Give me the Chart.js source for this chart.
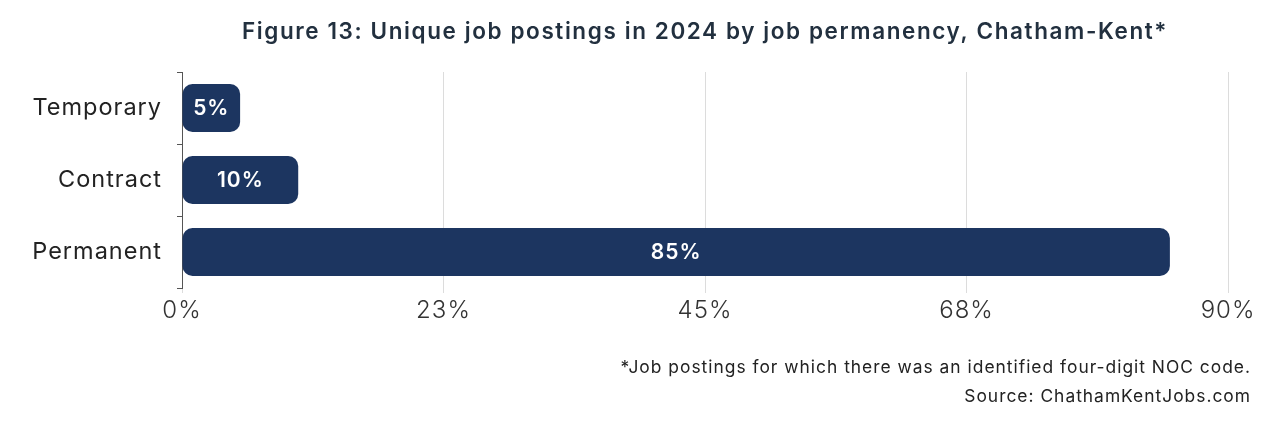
<!DOCTYPE html>
<html lang="en">
<head>
	<meta charset="UTF-8">
	<title>Unique job postings by job permanency</title>
	<style>
		body { margin: 0; background: #fff; }
		canvas { display: block; }
	</style>
</head>
<body>
	<canvas id="myChart" width="1267" height="423"></canvas>

	<script src="https://cdn.jsdelivr.net/npm/chart.js@4"></script>
	<script>
		// values
		var categories = ['Temporary', 'Contract', 'Permanent'];
		var shares = [5, 10, 85];
		var axisMax = 90;
		var axisStep = 22.5;

		var titleText = 'Figure 13: Unique job postings in 2024 by job permanency, Chatham-Kent*';
		var noteLines = ['*Job postings for which there was an identified four-digit NOC code.', 'Source: ChathamKentJobs.com'];

		var navy = '#1c3560';

		// the source font is wide, so space all letters out a little
		var spacing = {
			id: 'spacing',
			beforeUpdate: function(chart) { chart.ctx.letterSpacing = '1px'; },
			beforeDraw: function(chart) { chart.ctx.letterSpacing = '1px'; }
		};

		// title centred over the plot area (not the whole canvas)
		var plotTitle = {
			id: 'plotTitle',
			afterDraw: function(chart) {
				var ctx = chart.ctx;
				var area = chart.chartArea;
				ctx.save();
				ctx.letterSpacing = '1.6px';
				ctx.font = '600 22.5px Inter';
				ctx.fillStyle = '#22303f';
				ctx.textAlign = 'center';
				ctx.textBaseline = 'middle';
				ctx.fillText(titleText, (area.left + area.right) / 2, 32);
				ctx.restore();
			}
		};

		// white % label in the middle of each bar
		var barLabels = {
			id: 'barLabels',
			afterDatasetsDraw: function(chart) {
				var ctx = chart.ctx;
				var meta = chart.getDatasetMeta(0);
				ctx.save();
				ctx.font = '600 21px Inter';
				ctx.fillStyle = '#fff';
				ctx.textAlign = 'center';
				ctx.textBaseline = 'middle';
				meta.data.forEach(function(bar, i) {
					var x = (bar.x + bar.base) / 2;
					ctx.fillText(shares[i] + '%', x, bar.y + 1);
				});
				ctx.restore();
			}
		};

		var ctx = document.getElementById('myChart').getContext('2d');
		var myChart = new Chart(ctx, {
			type: 'bar',
			data: {
				labels: categories,
				datasets: [{
					data: shares,
					backgroundColor: navy,
					borderRadius: 10,
					borderSkipped: false,
					categoryPercentage: 1,
					barPercentage: 0.667
				}]
			},
			options: {
				indexAxis: 'y',
				responsive: false,
				animation: false,
				layout: { padding: { left: 0, right: 16, top: 72, bottom: 0 } },
				plugins: {
					legend: { display: false },
					tooltip: { enabled: false },
					title: { display: false },
					subtitle: {
						display: true,
						position: 'bottom',
						align: 'end',
						text: noteLines,
						color: '#222',
						font: { family: 'Inter', size: 17.4, weight: '400', lineHeight: '29px' },
						padding: { top: 0, bottom: 12 }
					}
				},
				scales: {
					x: {
						min: 0,
						max: axisMax,
						border: { display: false },
						grid: { color: '#dcdcdc', tickLength: 5 },
						ticks: {
							stepSize: axisStep,
							padding: 3,
							color: '#333',
							font: { family: 'Inter', size: 24, weight: '300' },
							callback: function(v) { return Math.round(v) + '%'; }
						},
						afterFit: function(scale) {
							scale.height = 65;
							scale.paddingRight = 39;
						}
					},
					y: {
						border: { display: true, color: '#555', width: 1 },
						grid: { drawOnChartArea: false, color: '#555', tickLength: 5 },
						ticks: {
							padding: 15,
							color: '#222',
							font: { family: 'Inter', size: 23.5, weight: '400' }
						},
						afterFit: function(scale) { scale.width = 182; }
					}
				}
			},
			plugins: [spacing, plotTitle, barLabels]
		});
	</script>
</body>
</html>
